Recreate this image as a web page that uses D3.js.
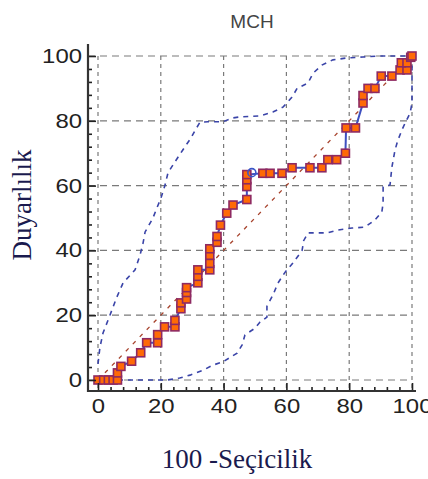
<!DOCTYPE html>
<html><head><meta charset="utf-8">
<script src="https://cdn.jsdelivr.net/npm/d3@7"></script>
<style>body{margin:0;background:#fff}svg{display:block}</style>
</head><body>
<script>
// ROC points [100-Specificity, Sensitivity]
const rocX = [0,1.8,3.3,4.8,6.2,6.2,7.3,10.7,13.6,15.5,19,19,21.2,24.5,24.5,26.4,26.4,28.2,28.2,28.2,31.8,31.8,31.8,35.6,35.6,35.6,35.6,37.9,37.9,39,41,43,47.4,47.4,47.4,47.4,52.5,54.8,58.6,61.8,67.5,71.3,73.2,76,78.8,79,82,84.4,84.4,86,88.2,90.2,93.6,96.2,98.4,96.6,98.4,99.6,100];
const rocY = [0,0,0,0,0,2.2,4.2,5.8,8.4,11.5,11.5,14,16.4,16.4,18.4,22,23.8,25,27,28.5,30,32,34,34,36,38.5,40.5,42.5,44.3,47.8,51.5,54,55.7,59.7,61.8,63.4,63.8,63.8,63.8,65.5,65.5,65.5,68,68,70,77.8,77.8,85.5,87.8,90,90,93.8,93.8,95.7,95.7,97.9,97.9,99.6,100];
// Optimal criterion marker
const optX = [49], optY = [64];
// Upper confidence band
const upX = [0,0.6,1.6,3.8,6,8,11.8,13.4,14.3,15,17.5,18.5,20,21.3,22.3,24.5,27,29.6,30.9,32.5,35,39.8,43,45.2,51.6,55.7,59,61.8,63.4,66.9,68.5,71.3,74.8,79.3,84.4,89.8,97,100];
const upY = [5,10,14.5,20,25.6,30,34,38.6,42,45.7,50,52.5,56,60,64,67.3,71,74.7,77,79.6,79.7,79.7,80.9,81.2,81.5,82.7,84.3,87.3,90,91.7,94.7,97.2,98.8,99.4,99.7,100,100,100];
// Lower confidence band
const loX = [0,8,22,26,29.3,33.4,36.6,39.8,44.3,45.9,46.8,50,51.6,53.8,53.8,55.7,57.3,59.6,62,65,65.5,66.9,69.7,72.9,76.4,80.9,85,88.2,90.4,90.8,90.8,93,93.6,94.6,95.5,96.8,97.8,99.4,100,100,100];
const loY = [0,0,0,0.6,1.5,3,4.6,5.6,8.3,10.8,13.9,16,17.9,19.4,22.8,26.2,29.9,33.3,36,40,43,45.4,45.4,45.4,46.3,46.9,47.2,49.4,51.9,54.6,59.6,60.2,65.7,71,74,77.2,79.3,82.4,85.5,92,100];
const ticks = [0,20,40,60,80,100];
const title = "MCH", xTitle = "100 -Seçicilik", yTitle = "Duyarlılık";

const W = 428, H = 479;
const svg = d3.select("body").append("svg").attr("width", W).attr("height", H);
const x = d3.scaleLinear().domain([0,100]).range([98,412]);
const y = d3.scaleLinear().domain([0,100]).range([380,56]);
const axX = 88, axY = 391;

// grid
svg.append("g").selectAll("line").data(ticks).join("line")
  .attr("x1", axX).attr("x2", x(100)).attr("y1", d=>y(d)).attr("y2", d=>y(d))
  .attr("stroke","#7a7a7a").attr("stroke-width",1.2).attr("stroke-dasharray","7,5");
svg.append("g").selectAll("line").data(ticks).join("line")
  .attr("x1", d=>x(d)).attr("x2", d=>x(d)).attr("y1", y(100)).attr("y2", axY)
  .attr("stroke","#7a7a7a").attr("stroke-width",1.2).attr("stroke-dasharray","4,4");

// diagonal
svg.append("line").attr("x1",x(0)).attr("y1",y(0)).attr("x2",x(100)).attr("y2",y(100))
  .attr("stroke","#a8442e").attr("stroke-width",1.3).attr("stroke-dasharray","4,6");

const line = d3.line().x(d=>x(d[0])).y(d=>y(d[1]));
// confidence bands
svg.append("path").datum(d3.zip(upX,upY)).attr("d",line).attr("fill","none")
  .attr("stroke","#3a44a8").attr("stroke-width",1.6).attr("stroke-dasharray","5,5");
svg.append("path").datum(d3.zip(loX,loY)).attr("d",line).attr("fill","none")
  .attr("stroke","#3a44a8").attr("stroke-width",1.6).attr("stroke-dasharray","5,5");

// ROC line
svg.append("path").datum(d3.zip(rocX,rocY)).attr("d",line).attr("fill","none")
  .attr("stroke","#3e50c0").attr("stroke-width",2);

// squares
const s = 8;
svg.append("g").selectAll("rect").data(d3.zip(rocX,rocY)).join("rect")
  .attr("x", d=>x(d[0])-s/2).attr("y", d=>y(d[1])-s/2).attr("width",s).attr("height",s)
  .attr("fill","#ff6a06").attr("stroke","#8e2a62").attr("stroke-width",1.6);

svg.append("g").selectAll("circle").data(d3.zip(optX,optY)).join("circle")
  .attr("cx", d=>x(d[0])).attr("cy", d=>y(d[1])).attr("r",4)
  .attr("fill","none").attr("stroke","#3a55c8").attr("stroke-width",1.6);

// axes
const minor = d3.range(0,101,4).filter(v=>v%20!==0);
const fontFam = "'Liberation Sans', Arial, sans-serif";
const yAx = svg.append("g").attr("transform",`translate(${axX},0)`)
  .call(d3.axisLeft(y).tickValues(ticks).tickSize(-8).tickSizeOuter(0).tickPadding(6));
const yMin = svg.append("g").attr("transform",`translate(${axX},0)`)
  .call(d3.axisLeft(y).tickValues(minor).tickSize(-4).tickSizeOuter(0).tickFormat(""));
const xAx = svg.append("g").attr("transform",`translate(0,${axY})`)
  .call(d3.axisBottom(x).tickValues(ticks).tickSize(-8).tickSizeOuter(0).tickPadding(8));
const xMin = svg.append("g").attr("transform",`translate(0,${axY})`)
  .call(d3.axisBottom(x).tickValues(minor).tickSize(-4).tickSizeOuter(0).tickFormat(""));
[yAx,yMin,xAx,xMin].forEach(g=>{
  g.select(".domain").remove();
  g.selectAll(".tick line").attr("stroke","#222").attr("stroke-width",1.6);
  g.selectAll("text").attr("font-family",fontFam).attr("font-size",20).attr("fill","#222")
    .attr("textLength", function(){ return this.textContent.length*13.3; })
    .attr("lengthAdjust","spacingAndGlyphs");
});
svg.append("line").attr("x1",axX).attr("x2",axX).attr("y1",44).attr("y2",axY+1)
  .attr("stroke","#333").attr("stroke-width",2.2);
svg.append("line").attr("x1",axX-1).attr("x2",416).attr("y1",axY).attr("y2",axY)
  .attr("stroke","#333").attr("stroke-width",2.2);

// titles
svg.append("text").attr("x",252).attr("y",28).attr("text-anchor","middle")
  .attr("font-family",fontFam).attr("font-size",19).attr("fill","#444").text(title);
svg.append("text").attr("x",237).attr("y",468).attr("text-anchor","middle")
  .attr("font-family","'Liberation Serif','Times New Roman',serif").attr("font-size",27)
  .attr("fill","#1a1a4e").text(xTitle);
svg.append("text").attr("transform","translate(31,205) rotate(-90)").attr("text-anchor","middle")
  .attr("font-family","'Liberation Serif','Times New Roman',serif").attr("font-size",27)
  .attr("fill","#1a1a4e").text(yTitle);
</script>
</body></html>
